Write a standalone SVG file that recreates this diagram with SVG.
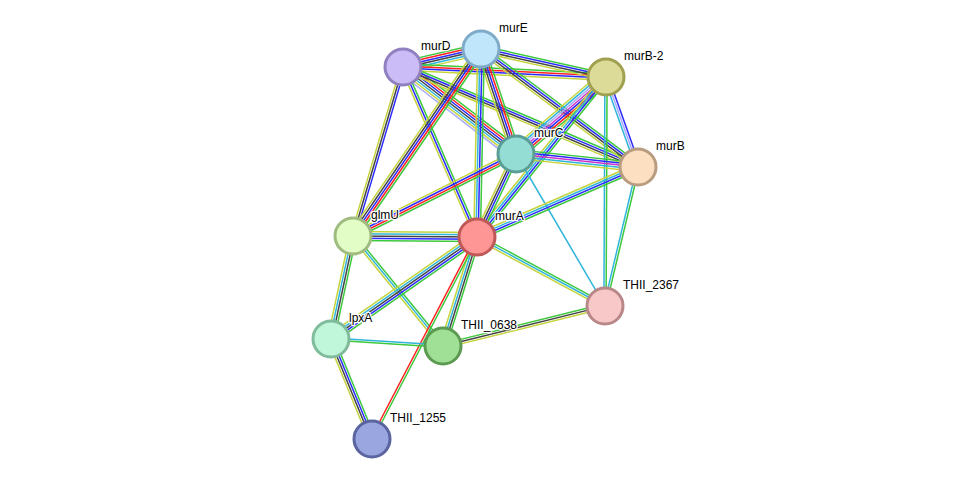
<svg xmlns="http://www.w3.org/2000/svg" width="976" height="485" viewBox="0 0 976 485">
<style>
.e path{fill:none;stroke-width:1.5}
.g{stroke:#3dc83d}.r{stroke:#f22}.b{stroke:#2a2aff}.k{stroke:#444}.m{stroke:#cc33cc}.c{stroke:#2fb5da}.y{stroke:#c5d43c}.l{stroke:#a8a8ff}
.n circle{stroke-width:3}
.n text{font-family:"Liberation Sans",Arial,sans-serif;font-size:12px;fill:#000;stroke:#fff;stroke-width:2.5;paint-order:stroke;stroke-linejoin:round}
</style>
<rect width="976" height="485" fill="#fff"/>
<g id="edges" class="e">
<g transform="translate(403 67) rotate(-13)"><path class="g" d="M0-5.5H80"/><path class="r" d="M0-3.3H80"/><path class="b" d="M0-1.1H80"/><path class="k" d="M0 1.1H80"/><path class="c" d="M0 3.3H80"/><path class="y" d="M0 5.5H80"/></g>
<g transform="translate(403 67) rotate(2.82)"><path class="g" d="M0-3.3H203"/><path class="r" d="M0-1.1H203"/><path class="b" d="M0 1.1H203"/><path class="y" d="M0 3.3H203"/></g>
<g transform="translate(403 67) rotate(37.6)"><path class="g" d="M0-6.6H143"/><path class="r" d="M0-4.4H143"/><path class="b" d="M0-2.2H143"/><path class="k" d="M0 0H143"/><path class="c" d="M0 2.2H143"/><path class="y" d="M0 4.4H143"/><path class="l" d="M0 6.6H143"/></g>
<g transform="translate(403 67) rotate(23.05)"><path class="g" d="M0-3.3H255"/><path class="b" d="M0-1.1H255"/><path class="k" d="M0 1.1H255"/><path class="y" d="M0 3.3H255"/></g>
<g transform="translate(403 67) rotate(106.5)"><path class="b" d="M0-2.2H176"/><path class="k" d="M0 0H176"/><path class="y" d="M0 2.2H176"/></g>
<g transform="translate(403 67) rotate(66.5)"><path class="g" d="M0-2.2H185"/><path class="b" d="M0 0H185"/><path class="y" d="M0 2.2H185"/></g>
<g transform="translate(481 49) rotate(12.6)"><path class="g" d="M0-3.3H128"/><path class="b" d="M0-1.1H128"/><path class="k" d="M0 1.1H128"/><path class="y" d="M0 3.3H128"/></g>
<g transform="translate(481 49) rotate(71.6)"><path class="g" d="M0-4.4H111"/><path class="r" d="M0-2.2H111"/><path class="b" d="M0 0H111"/><path class="k" d="M0 2.2H111"/><path class="y" d="M0 4.4H111"/></g>
<g transform="translate(481 49) rotate(36.9)"><path class="g" d="M0-3.3H196"/><path class="b" d="M0-1.1H196"/><path class="k" d="M0 1.1H196"/><path class="y" d="M0 3.3H196"/></g>
<g transform="translate(481 49) rotate(124.4)"><path class="g" d="M0-4.4H227"/><path class="r" d="M0-2.2H227"/><path class="b" d="M0 0H227"/><path class="k" d="M0 2.2H227"/><path class="y" d="M0 4.4H227"/></g>
<g transform="translate(481 49) rotate(91.2)"><path class="g" d="M0-3.3H188"/><path class="b" d="M0-1.1H188"/><path class="c" d="M0 1.1H188"/><path class="y" d="M0 3.3H188"/></g>
<g transform="translate(606 77) rotate(139.45)"><path class="g" d="M0-6.6H118"/><path class="r" d="M0-4.4H118"/><path class="b" d="M0-2.2H118"/><path class="m" d="M0 0H118"/><path class="l" d="M0 2.2H118"/><path class="c" d="M0 4.4H118"/><path class="y" d="M0 6.6H118"/></g>
<g transform="translate(606 77) rotate(70.4)"><path class="b" d="M0-2.2H95"/><path class="l" d="M0 0H95"/><path class="c" d="M0 2.2H95"/></g>
<g transform="translate(606 77) rotate(128.9)"><path class="g" d="M0-3.3H205"/><path class="b" d="M0-1.1H205"/><path class="c" d="M0 1.1H205"/><path class="y" d="M0 3.3H205"/></g>
<g transform="translate(606 77) rotate(90.25)"><path class="g" d="M0-1.1H229"/><path class="c" d="M0 1.1H229"/></g>
<g transform="translate(516 154) rotate(6.1)"><path class="g" d="M0-4.4H123"/><path class="b" d="M0-2.2H123"/><path class="m" d="M0 0H123"/><path class="c" d="M0 2.2H123"/><path class="y" d="M0 4.4H123"/></g>
<g transform="translate(516 154) rotate(153.3)"><path class="g" d="M0-3.3H182"/><path class="r" d="M0-1.1H182"/><path class="b" d="M0 1.1H182"/><path class="y" d="M0 3.3H182"/></g>
<g transform="translate(516 154) rotate(115.2)"><path class="g" d="M0-3.3H92"/><path class="b" d="M0-1.1H92"/><path class="k" d="M0 1.1H92"/><path class="y" d="M0 3.3H92"/></g>
<g transform="translate(516 154) rotate(59.65)"><path class="c" d="M0 0H176"/></g>
<g transform="translate(638 167) rotate(156.5)"><path class="g" d="M0-3.3H176"/><path class="b" d="M0-1.1H176"/><path class="c" d="M0 1.1H176"/><path class="y" d="M0 3.3H176"/></g>
<g transform="translate(638 167) rotate(103.4)"><path class="g" d="M0-1.1H143"/><path class="c" d="M0 1.1H143"/></g>
<g transform="translate(353 236) rotate(0.46)"><path class="g" d="M0 4.4H124"/><path class="b" d="M0 2.2H124"/><path class="k" d="M0 0H124"/><path class="c" d="M0-2.2H124"/><path class="y" d="M0-4.4H124"/></g>
<g transform="translate(353 236) rotate(102.1)"><path class="g" d="M0-3.3H105"/><path class="k" d="M0-1.1H105"/><path class="c" d="M0 1.1H105"/><path class="y" d="M0 3.3H105"/></g>
<g transform="translate(353 236) rotate(50.7)"><path class="g" d="M0-2.2H142"/><path class="c" d="M0 0H142"/><path class="y" d="M0 2.2H142"/></g>
<g transform="translate(477 237) rotate(145.1)"><path class="g" d="M0-4.4H178"/><path class="b" d="M0-2.2H178"/><path class="k" d="M0 0H178"/><path class="c" d="M0 2.2H178"/><path class="y" d="M0 4.4H178"/></g>
<g transform="translate(477 237) rotate(107.3)"><path class="g" d="M0-3.3H114"/><path class="k" d="M0-1.1H114"/><path class="c" d="M0 1.1H114"/><path class="y" d="M0 3.3H114"/></g>
<g transform="translate(477 237) rotate(117.5)"><path class="g" d="M0-1.1H228"/><path class="r" d="M0 1.1H228"/></g>
<g transform="translate(477 237) rotate(28.3)"><path class="g" d="M0-2.2H145"/><path class="c" d="M0 0H145"/><path class="y" d="M0 2.2H145"/></g>
<g transform="translate(331 339) rotate(3.6)"><path class="c" d="M0-1.1H112"/><path class="g" d="M0 1.1H112"/></g>
<g transform="translate(331 339) rotate(67.7)"><path class="g" d="M0-3.3H108"/><path class="b" d="M0-1.1H108"/><path class="k" d="M0 1.1H108"/><path class="y" d="M0 3.3H108"/></g>
<g transform="translate(443 346) rotate(-13.9)"><path class="g" d="M0-2.2H167"/><path class="k" d="M0 0H167"/><path class="y" d="M0 2.2H167"/></g>
</g>
<g id="murD" class="n"><circle cx="403" cy="67" r="18" fill="#cbbcf7" stroke="#9080c0"/><text x="421" y="50">murD</text></g>
<g id="murE" class="n"><circle cx="481" cy="49" r="18" fill="#bfe6fa" stroke="#7faac8"/><text x="499" y="32">murE</text></g>
<g id="murB-2" class="n"><circle cx="606" cy="77" r="18" fill="#dcdb97" stroke="#a0a050"/><text x="624" y="60">murB-2</text></g>
<g id="murC" class="n"><circle cx="516" cy="154" r="18" fill="#94ddd4" stroke="#5a9e95"/><text x="534" y="137">murC</text></g>
<g id="murB" class="n"><circle cx="638" cy="167" r="18" fill="#fcdfc1" stroke="#b89c80"/><text x="656" y="150">murB</text></g>
<g id="glmU" class="n"><circle cx="353" cy="236" r="18" fill="#e2fdc5" stroke="#a0bb80"/><text x="371" y="219">glmU</text></g>
<g id="murA" class="n"><circle cx="477" cy="237" r="18" fill="#fe9696" stroke="#c05858"/><text x="495" y="220">murA</text></g>
<g id="THII_2367" class="n"><circle cx="605" cy="306" r="18" fill="#f8c7c7" stroke="#b88888"/><text x="623" y="289">THII_2367</text></g>
<g id="lpxA" class="n"><circle cx="331" cy="339" r="18" fill="#c0f7da" stroke="#80bb9b"/><text x="349" y="322">lpxA</text></g>
<g id="THII_0638" class="n"><circle cx="443" cy="346" r="18" fill="#a0e096" stroke="#5c9a52"/><text x="461" y="329">THII_0638</text></g>
<g id="THII_1255" class="n"><circle cx="372" cy="439" r="18" fill="#9aa6e0" stroke="#5a64a0"/><text x="390" y="422">THII_1255</text></g>
</svg>
